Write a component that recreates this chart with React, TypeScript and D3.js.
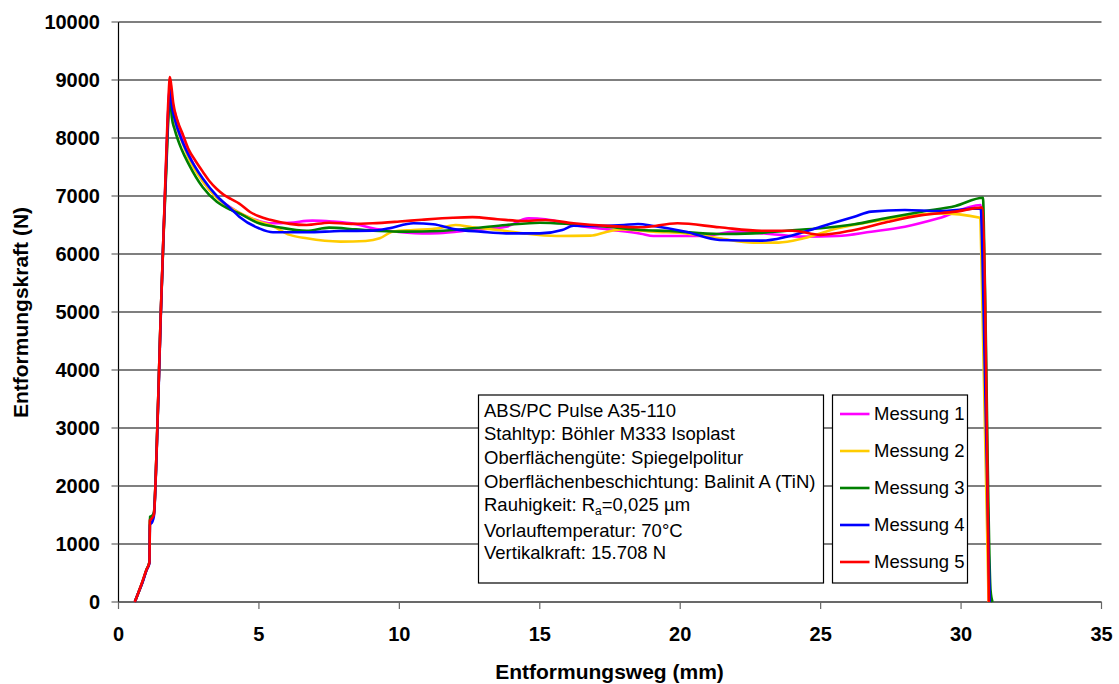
import React from "react";
import * as d3 from "d3";

type P = [number, number];

const xTicks = [0, 5, 10, 15, 20, 25, 30, 35];
const yTicks = [0, 1000, 2000, 3000, 4000, 5000, 6000, 7000, 8000, 9000, 10000];
const seriesNames = ["Messung 1", "Messung 2", "Messung 3", "Messung 4", "Messung 5"];
const seriesColors = ["#FF00FF", "#FFCC00", "#008000", "#0000FF", "#FF0000"];

const messung1: P[] = [
  [0.58, 0], [0.7, 150], [0.85, 340], [1.0, 560], [1.1, 680], [1.12, 1420], [1.2, 1460], [1.26, 1520],
  [1.36, 2650], [1.5, 4900], [1.6, 6300], [1.7, 7550], [1.78, 8550], [1.83, 8900], [1.9, 8650], [2.0, 8450],
  [2.25, 8050], [2.5, 7720], [3.0, 7260], [3.5, 6980], [4.0, 6800], [4.5, 6660], [5.0, 6570], [5.4, 6530],
  [6.1, 6540], [6.9, 6575], [7.6, 6560], [8.45, 6515], [9.05, 6445], [9.64, 6400], [10.8, 6355], [11.4, 6360],
  [12.6, 6415], [13.8, 6470], [14.6, 6615], [15.2, 6600], [16.2, 6500], [17.4, 6425], [18.6, 6350], [19.05, 6310],
  [20.8, 6310], [22.0, 6385], [23.2, 6345], [24.4, 6300], [25.6, 6310], [26.8, 6385], [28.0, 6470], [29.2, 6615],
  [30.7, 6845], [30.76, 6200], [31.0, 0],
];

const messung2: P[] = [
  [0.58, 0], [0.7, 150], [0.85, 340], [1.0, 560], [1.1, 680], [1.12, 1420], [1.2, 1460], [1.26, 1520],
  [1.36, 2650], [1.5, 4900], [1.6, 6300], [1.7, 7500], [1.78, 8450], [1.83, 8800], [1.9, 8500], [2.0, 8300],
  [2.25, 7950], [2.5, 7650], [3.0, 7250], [3.5, 6970], [4.0, 6790], [4.3, 6713], [5.0, 6560], [5.4, 6500],
  [6.1, 6330], [6.7, 6270], [7.9, 6213], [8.8, 6224], [9.3, 6270], [9.76, 6385], [10.5, 6414], [11.4, 6443],
  [12.0, 6500], [12.6, 6460], [13.5, 6414], [14.4, 6356], [15.6, 6310], [16.8, 6316], [17.4, 6385], [17.9, 6425],
  [19.05, 6385], [20.2, 6356], [21.4, 6270], [22.6, 6196], [23.5, 6196], [24.4, 6270], [25.6, 6443], [26.8, 6557],
  [28.0, 6643], [29.2, 6701], [30.68, 6626], [30.72, 6000], [30.98, 0],
];

const messung3: P[] = [
  [0.58, 0], [0.7, 150], [0.85, 340], [1.0, 560], [1.1, 690], [1.12, 1470], [1.2, 1490], [1.26, 1540],
  [1.36, 2650], [1.5, 4900], [1.6, 6250], [1.7, 7450], [1.78, 8400], [1.83, 8750], [1.9, 8350], [2.0, 8150],
  [2.25, 7800], [2.5, 7550], [3.0, 7150], [3.5, 6900], [4.0, 6760], [4.3, 6700], [5.0, 6530], [5.7, 6460],
  [6.7, 6400], [7.5, 6454], [8.45, 6425], [9.3, 6397], [10.2, 6385], [11.4, 6397], [12.6, 6443], [13.8, 6500],
  [15.0, 6540], [16.2, 6512], [17.4, 6471], [18.6, 6414], [19.6, 6397], [21.4, 6345], [22.6, 6356], [23.8, 6402],
  [25.0, 6443], [26.2, 6512], [27.4, 6626], [28.6, 6730], [29.8, 6828], [30.78, 6970], [30.84, 5700],
  [31.05, 200], [31.12, 0],
];

const messung4: P[] = [
  [0.58, 0], [0.7, 150], [0.85, 330], [1.0, 550], [1.1, 670], [1.12, 1330], [1.2, 1380], [1.26, 1480],
  [1.36, 2600], [1.5, 4850], [1.6, 6300], [1.7, 7600], [1.78, 8550], [1.83, 8850], [1.9, 8550], [2.0, 8330],
  [2.25, 7970], [2.5, 7700], [3.0, 7300], [3.5, 7000], [4.0, 6780], [4.3, 6644], [5.0, 6443], [5.5, 6374],
  [6.7, 6374], [7.9, 6397], [9.05, 6402], [9.64, 6443], [10.5, 6529], [11.2, 6512], [12.0, 6425], [12.9, 6385],
  [13.8, 6356], [15.0, 6356], [15.8, 6414], [16.2, 6488], [16.9, 6483], [18.0, 6500], [18.5, 6517], [19.05, 6483],
  [20.2, 6385], [21.4, 6241], [22.9, 6230], [23.8, 6299], [25.0, 6471], [26.2, 6643], [26.8, 6730], [28.0, 6759],
  [29.2, 6741], [30.7, 6787], [30.76, 6000], [31.02, 0],
];

const messung5: P[] = [
  [0.58, 0], [0.7, 150], [0.85, 350], [1.0, 560], [1.1, 680], [1.12, 1400], [1.2, 1450], [1.26, 1510],
  [1.36, 2650], [1.5, 4900], [1.6, 6300], [1.7, 7700], [1.78, 8700], [1.83, 9050], [1.88, 8900], [1.95, 8600],
  [2.1, 8300], [2.3, 8050], [2.5, 7800], [2.75, 7600], [3.0, 7420], [3.25, 7250], [3.5, 7120], [3.75, 7020],
  [4.0, 6950], [4.3, 6870], [4.7, 6720], [5.0, 6650], [5.4, 6590], [6.1, 6520], [6.7, 6500], [7.5, 6540],
  [8.3, 6520], [9.05, 6530], [10.0, 6560], [10.8, 6590], [11.9, 6625], [12.6, 6635], [13.5, 6600], [14.4, 6570],
  [15.2, 6585], [16.2, 6530], [17.4, 6485], [18.6, 6460], [19.9, 6530], [21.4, 6460], [22.9, 6400], [24.0, 6400],
  [25.0, 6330], [26.2, 6415], [27.4, 6555], [28.6, 6670], [29.8, 6730], [30.75, 6800], [30.99, 0],
];

const allSeries = [messung1, messung2, messung3, messung4, messung5];

const infoLines = [
  "ABS/PC Pulse A35-110",
  "Stahltyp: Böhler M333 Isoplast",
  "Oberflächengüte: Spiegelpolitur",
  "Oberflächenbeschichtung: Balinit A (TiN)",
  "RA",
  "Vorlauftemperatur: 70°C",
  "Vertikalkraft: 15.708 N",
];

export default function App() {
  const W = 1119;
  const H = 684;
  const x = d3.scaleLinear().domain([0, 35]).range([118.5, 1101.5]);
  const y = d3.scaleLinear().domain([0, 10000]).range([602, 22]);
  const line = d3
    .line<P>()
    .x((d) => x(d[0]))
    .y((d) => y(d[1]))
    .curve(d3.curveMonotoneX);

  const font = "'Liberation Sans', Arial, Helvetica, sans-serif";
  const infoBaselines = [416.5, 440, 463.5, 487.5, 511, 536.5, 559];

  return (
    <svg
      width={W}
      height={H}
      style={{ position: "absolute", left: 0, top: 0, background: "#fff" }}
      fontFamily={font}
    >
      <rect x={0} y={0} width={W} height={H} fill="#fff" />
      {/* gridlines */}
      {yTicks.map((t) => (
        <line key={"g" + t} x1={x(0)} x2={x(35)} y1={y(t)} y2={y(t)} stroke="#000" strokeWidth={1.2} />
      ))}
      {/* y axis */}
      <line x1={x(0)} x2={x(0)} y1={y(10000)} y2={y(0)} stroke="#000" strokeWidth={1.2} />
      {yTicks.map((t) => (
        <g key={"yt" + t}>
          <line x1={x(0) - 7} x2={x(0)} y1={y(t)} y2={y(t)} stroke="#666" strokeWidth={1.2} />
          <text x={100} y={y(t) + 7} textAnchor="end" fontSize={20} fontWeight="bold" fill="#000">
            {t}
          </text>
        </g>
      ))}
      {/* x axis */}
      <line x1={x(0)} x2={x(35)} y1={y(0)} y2={y(0)} stroke="#555" strokeWidth={1.2} />
      {xTicks.map((t) => (
        <g key={"xt" + t}>
          <line x1={x(t)} x2={x(t)} y1={y(0)} y2={y(0) + 7} stroke="#666" strokeWidth={1.2} />
          <text x={x(t)} y={641} textAnchor="middle" fontSize={20} fontWeight="bold" fill="#000">
            {t}
          </text>
        </g>
      ))}
      {/* series */}
      {allSeries.map((s, i) => (
        <path
          key={"s" + i}
          d={line(s) || ""}
          fill="none"
          stroke={seriesColors[i]}
          strokeWidth={2.6}
          strokeLinejoin="round"
        />
      ))}
      {/* axis titles */}
      <text x={609.5} y={679} textAnchor="middle" fontSize={21} fontWeight="bold">
        Entformungsweg (mm)
      </text>
      <text
        transform="translate(28,312.5) rotate(-90)"
        textAnchor="middle"
        fontSize={21}
        fontWeight="bold"
      >
        Entformungskraft (N)
      </text>
      {/* info box */}
      <rect x={478.5} y={395} width={345} height={188} fill="#fff" stroke="#000" strokeWidth={1.2} />
      {infoLines.map((l, i) =>
        l === "RA" ? (
          <text key={"i" + i} x={484} y={infoBaselines[i]} fontSize={18.5} fill="#000">
            Rauhigkeit: R
            <tspan fontSize={12} dy={4}>
              a
            </tspan>
            <tspan dy={-4}>=0,025 µm</tspan>
          </text>
        ) : (
          <text key={"i" + i} x={484} y={infoBaselines[i]} fontSize={18.5} fill="#000">
            {l}
          </text>
        )
      )}
      {/* legend */}
      <rect x={832.5} y={395} width={135} height={188} fill="#fff" stroke="#000" strokeWidth={1.2} />
      {seriesNames.map((n, i) => {
        const by = 420 + i * 37;
        return (
          <g key={"l" + i}>
            <line x1={840} x2={869.5} y1={by - 6} y2={by - 6} stroke={seriesColors[i]} strokeWidth={2.6} />
            <text x={874} y={by} fontSize={18.5} fill="#000">
              {n}
            </text>
          </g>
        );
      })}
    </svg>
  );
}
